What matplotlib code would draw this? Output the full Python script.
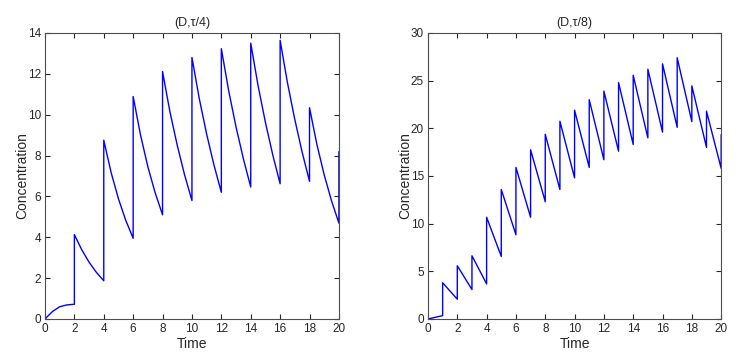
#!/usr/bin/env python3
"""
Concentration vs time for two dosing schedules, (D,tau/4) and (D,tau/8).
"""

import matplotlib
matplotlib.use("Agg")
import matplotlib.pyplot as plt

plt.rcParams['font.family'] = ['Liberation Sans', 'DejaVu Sans']

# Left panel (D,tau/4): dose every 2 time units, curves sampled every 0.5
t_left = [0, 0.5, 1, 1.5, 2,
          2, 2.5, 3, 3.5, 4,
          4, 4.5, 5, 5.5, 6,
          6, 6.5, 7, 7.5, 8,
          8, 8.5, 9, 9.5, 10,
          10, 10.5, 11, 11.5, 12,
          12, 12.5, 13, 13.5, 14,
          14, 14.5, 15, 15.5, 16,
          16, 16.5, 17, 17.5, 18,
          18, 18.5, 19, 19.5, 20,
          20]
c_left = [0.0, 0.36, 0.60, 0.69, 0.72,
          4.13, 3.39, 2.78, 2.28, 1.87,
          8.75, 7.17, 5.88, 4.82, 3.95,
          10.89, 9.01, 7.45, 6.17, 5.10,
          12.11, 10.15, 8.50, 7.05, 5.80,
          12.80, 10.78, 9.05, 7.53, 6.20,
          13.23, 11.17, 9.40, 7.84, 6.46,
          13.50, 11.42, 9.62, 8.03, 6.62,
          13.64, 11.56, 9.76, 8.16, 6.74,
          10.34, 8.55, 7.05, 5.78, 4.69,
          8.18]

# Right panel (D,tau/8): dose every time unit
t_right = [0, 1, 1, 2, 2, 3, 3, 4, 4, 5, 5, 6, 6, 7, 7, 8, 8, 9, 9, 10,
           10, 11, 11, 12, 12, 13, 13, 14, 14, 15, 15, 16, 16, 17, 17, 18,
           18, 19, 19, 20, 20]
c_right = [0.0, 0.35, 3.80, 2.07, 5.58, 3.09, 6.63, 3.68, 10.67, 6.56,
           13.58, 8.84, 15.90, 10.67, 17.75, 12.30, 19.37, 13.58, 20.74, 14.80,
           21.90, 15.90, 23.00, 16.70, 23.90, 17.60, 24.80, 18.30, 25.56, 19.00,
           26.20, 19.60, 26.76, 20.10, 27.40, 20.70, 24.45, 18.00, 21.80, 15.80,
           19.30]

panels = [
    ("(D,\u03c4/4)", t_left, c_left, (0, 14), range(0, 15, 2)),
    ("(D,\u03c4/8)", t_right, c_right, (0, 30), range(0, 31, 5)),
]

fig = plt.figure(figsize=(7.46, 3.54), dpi=100)
positions = [[0.0603, 0.0989, 0.394, 0.808], [0.5737, 0.0989, 0.393, 0.808]]

text_color = '#262626'
for pos, (title, t, c, ylim, yticks) in zip(positions, panels):
    ax = fig.add_axes(pos)
    ax.plot(t, c, color='#0000ff', linewidth=1.0)
    ax.set_xlim(0, 20)
    ax.set_ylim(*ylim)
    ax.set_xticks(range(0, 21, 2))
    ax.set_yticks(list(yticks))
    ax.tick_params(direction='in', length=3.5, width=0.8, labelsize=8.5,
                   colors=text_color, top=True, right=True, pad=3)
    for s in ax.spines.values():
        s.set_color('#4d4d4d')
        s.set_linewidth(0.8)
    ax.set_title(title, fontsize=9, color=text_color, pad=5)
    ax.set_xlabel("Time", fontsize=10, color=text_color, labelpad=1)
    ax.set_ylabel("Concentration", fontsize=10, color=text_color)
    # keep the label just left of the tick labels, as in the original
    ax.yaxis.set_label_coords(-0.055, 0.5)

plt.savefig("out.png", dpi=100)
plt.close()
